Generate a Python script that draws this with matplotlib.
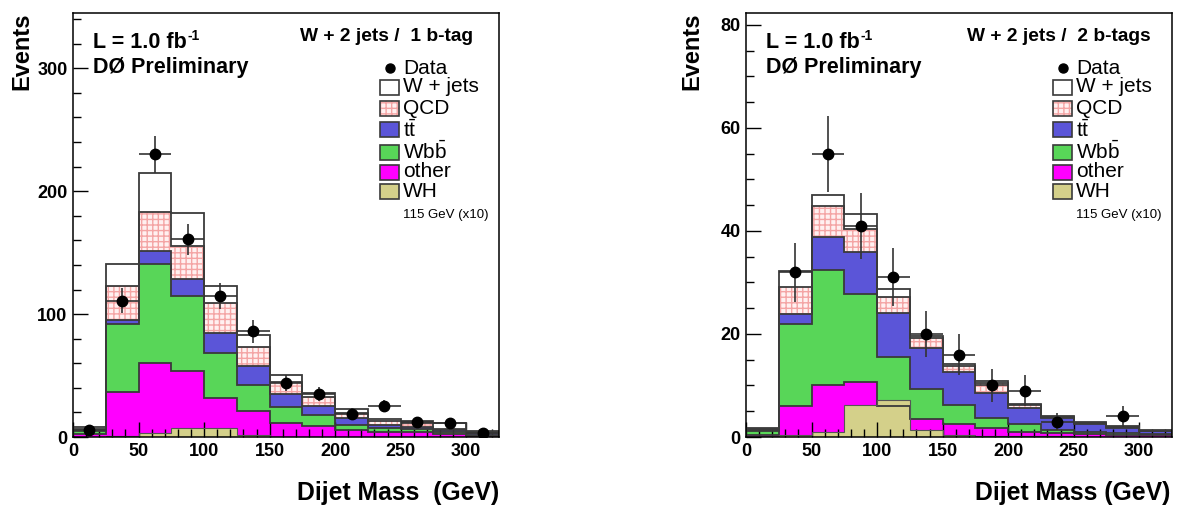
import numpy as np
import matplotlib
matplotlib.use("Agg")
from matplotlib import pyplot as plt
from matplotlib.patches import Rectangle
from matplotlib.ticker import MultipleLocator

plt.rcParams['font.family'] = ['Liberation Sans', 'DejaVu Sans']
plt.rcParams['mathtext.fontset'] = 'custom'
plt.rcParams['mathtext.rm'] = 'Liberation Sans'
plt.rcParams['mathtext.bf'] = 'Liberation Sans:bold'
plt.rcParams['hatch.linewidth'] = 1.0

# dijet mass bins (GeV)
edges = np.arange(0, 326, 25)
centers = edges[:-1] + 12.5

# ---- W + 2 jets / 1 b-tag ----
other_1 = [2.4, 36.3, 60, 53.7, 31.4, 20.9, 11.1, 9.2, 5.7, 4.3, 3.8, 2.5, 1.0]
wbb_1 = [2.8, 55.3, 80.6, 60.7, 36.9, 21.6, 13.6, 9.0, 4.3, 3.0, 2.7, 1.5, 1.0]
ttbar_1 = [0.8, 3.8, 10.4, 14.1, 16.0, 15.0, 10.3, 7.3, 5.2, 2.5, 1.9, 1.5, 1.5]
qcd_1 = [0.8, 27.1, 32, 27, 24.7, 15.4, 10, 6.7, 4.3, 3.5, 3.0, 1.0, 0.5]
wjets_1 = [1.1, 18.1, 32, 26.5, 13.5, 10.3, 5.1, 3.8, 3.3, 1.3, 1.3, 5.0, 1.0]
wh_1 = [0.3, 0.5, 3.0, 7.3, 7.3, 1.6, 0.4, 0.3, 0.2, 0.1, 0.1, 0.1, 0.1]
data_1 = [6, 111, 230, 161, 115, 86, 44, 35, 19, 25, 12, 11, 3]
err_1 = [2.4, 10.5, 15.2, 12.7, 10.7, 9.3, 6.6, 5.9, 4.4, 5.0, 3.5, 3.3, 1.7]

# ---- W + 2 jets / 2 b-tags ----
other_2 = [0.4, 6.1, 10.1, 10.7, 6.0, 3.4, 2.6, 1.7, 1.0, 0.7, 0.5, 0.4, 0.3]
wbb_2 = [0.7, 15.9, 22.4, 17.0, 9.5, 5.9, 3.6, 1.9, 1.5, 0.7, 0.5, 0.3, 0.2]
ttbar_2 = [0.2, 1.9, 6.3, 8.2, 8.6, 8.0, 6.4, 4.9, 3.2, 2.2, 1.6, 1.0, 0.6]
qcd_2 = [0.2, 5.2, 6.0, 4.5, 3.1, 2.0, 1.2, 2.0, 0.5, 0.3, 0.2, 0.3, 0.1]
wjets_2 = [0.2, 3.1, 2.2, 2.9, 1.5, 0.4, 0.3, 0.4, 0.2, 0.2, 0.2, 0.2, 0.1]
wh_2 = [0.1, 0.3, 1.0, 6.3, 7.2, 1.3, 0.3, 0.1, 0.1, 0.1, 0.0, 0.0, 0.0]
data_2 = [0, 32, 55, 41, 31, 20, 16, 10, 9, 3, 0, 4, 0]
err_2 = [0, 5.7, 7.4, 6.4, 5.6, 4.5, 4.0, 3.2, 3.0, 1.7, 0, 2.0, 0]

labels = ['W + jets', 'QCD', r'$\mathrm{t\bar{t}}$', r'$\mathrm{Wb\bar{b}}$', 'other', 'WH']
col_wjets = 'white'
col_qcd = '#fff0f0'
col_qcd_hatch = '#f4a4a4'
col_tt = '#5b55d8'
col_wbb = '#58d658'
col_other = '#ff00ff'
col_wh = '#d4d08a'
col_line = '#3a3a3a'

W, H = 1178.0, 507.0
fig = plt.figure(figsize=(11.78, 5.07), dpi=100)


def draw_panel(ax, other, wbb, tt, qcd, wj, wh, data, err, ymax, major, minor, title):
    other = np.array(other); wbb = np.array(wbb); tt = np.array(tt)
    qcd = np.array(qcd); wj = np.array(wj)
    c1 = other
    c2 = c1 + wbb
    c3 = c2 + tt
    c4 = c3 + qcd
    c5 = c4 + wj
    # stacked, drawn from the top layer down
    ax.stairs(c5, edges, fill=True, facecolor=col_wjets, zorder=1)
    ax.stairs(c4, edges, fill=True, facecolor=col_qcd, edgecolor=col_qcd_hatch,
              hatch='+++', linewidth=0, zorder=1.1)
    ax.stairs(c3, edges, fill=True, facecolor=col_tt, zorder=1.2)
    ax.stairs(c2, edges, fill=True, facecolor=col_wbb, zorder=1.3)
    ax.stairs(c1, edges, fill=True, facecolor=col_other, zorder=1.4)
    ax.stairs(wh, edges, fill=True, facecolor=col_wh, zorder=1.5)
    for c in (c5, c4, c3, c2, c1):
        ax.stairs(c, edges, color=col_line, linewidth=1.3, zorder=2)
    ax.stairs(wh, edges, color='#555555', linewidth=0.8, zorder=2)

    data = np.array(data, dtype=float); err = np.array(err)
    m = data > 0
    ax.errorbar(centers[m], data[m], xerr=12.5, yerr=err[m], fmt='o', color='black',
                ecolor='#333333', elinewidth=1.2, markersize=7.5, capsize=0, zorder=3)

    ax.set_xlim(0, 325)
    ax.set_ylim(0, ymax)
    ax.xaxis.set_major_locator(MultipleLocator(50))
    ax.xaxis.set_minor_locator(MultipleLocator(10))
    ax.yaxis.set_major_locator(MultipleLocator(major))
    ax.yaxis.set_minor_locator(MultipleLocator(minor))
    ax.tick_params(which='both', direction='in', top=False, right=False,
                   labelsize=13, width=1.0)
    ax.tick_params(which='major', length=11, pad=4)
    ax.tick_params(which='minor', length=6)
    for lab in ax.get_xticklabels() + ax.get_yticklabels():
        lab.set_fontweight('bold')
    for s in ax.spines.values():
        s.set_linewidth(1.1)
        s.set_zorder(5)

    # text in the upper part of the frame
    lum = ax.text(20 / 426, 1 - 35 / 424, 'L = 1.0 fb', transform=ax.transAxes,
                  fontsize=15.5, fontweight='bold', va='baseline')
    ax.annotate('-1', xy=(1, 1), xycoords=lum, xytext=(0.5, 2.5),
                textcoords='offset points', fontsize=10, fontweight='bold',
                ha='left', va='top')
    ax.text(20 / 426, 1 - 60 / 424, 'DØ Preliminary', transform=ax.transAxes,
            fontsize=15.5, fontweight='bold', va='baseline')
    ax.text(313 / 426, 1 - 28 / 424, title, transform=ax.transAxes,
            fontsize=13.8, fontweight='bold', ha='center', va='baseline')

    # legend
    bx = 307 / 426
    bw = 19 / 426
    bh = 15 / 424
    rows = [55, 74, 96, 117, 139, 159, 179]
    tx = 330 / 426
    y = 1 - rows[0] / 424
    ax.plot([bx + bw / 2], [y], 'o', color='black', markersize=6.5,
            transform=ax.transAxes, clip_on=False, zorder=6)
    ax.text(tx, y, 'Data', transform=ax.transAxes, fontsize=15, va='center')
    fills = [col_wjets, col_qcd, col_tt, col_wbb, col_other, col_wh]
    for i, (lab, fc) in enumerate(zip(labels, fills)):
        y = 1 - rows[i + 1] / 424
        hatch = '+++' if lab == 'QCD' else None
        ax.add_patch(Rectangle((bx, y - bh / 2), bw, bh, transform=ax.transAxes,
                               facecolor=fc, edgecolor=col_qcd_hatch if hatch else col_line,
                               hatch=hatch, linewidth=0 if hatch else 1.2, zorder=6))
        if hatch:
            ax.add_patch(Rectangle((bx, y - bh / 2), bw, bh, transform=ax.transAxes,
                                   fill=False, edgecolor=col_line, linewidth=1.2, zorder=6))
        ax.text(tx, y, lab, transform=ax.transAxes, fontsize=15, va='center')
    ax.text(tx, 1 - 202 / 424, '115 GeV (x10)', transform=ax.transAxes,
            fontsize=9.5, va='center')


ax1 = fig.add_axes([73 / W, 1 - 437 / H, 426 / W, 424 / H])
draw_panel(ax1, other_1, wbb_1, ttbar_1, qcd_1, wjets_1, wh_1, data_1, err_1,
           345, 100, 20, 'W + 2 jets /  1 b-tag')
ax2 = fig.add_axes([746 / W, 1 - 437 / H, 426 / W, 424 / H])
draw_panel(ax2, other_2, wbb_2, ttbar_2, qcd_2, wjets_2, wh_2, data_2, err_2,
           82.3, 20, 5, 'W + 2 jets /  2 b-tags')

fig.text(22 / W, 1 - 13 / H, 'Events', rotation=90, fontsize=17, fontweight='bold',
         ha='center', va='top')
fig.text(692 / W, 1 - 13 / H, 'Events', rotation=90, fontsize=17, fontweight='bold',
         ha='center', va='top')
fig.text(499 / W, 1 - 500 / H, 'Dijet Mass  (GeV)', fontsize=17.8, fontweight='bold',
         ha='right', va='baseline')
fig.text(1170 / W, 1 - 500 / H, 'Dijet Mass (GeV)', fontsize=17.8, fontweight='bold',
         ha='right', va='baseline')

fig.savefig('out.png', dpi=100)
